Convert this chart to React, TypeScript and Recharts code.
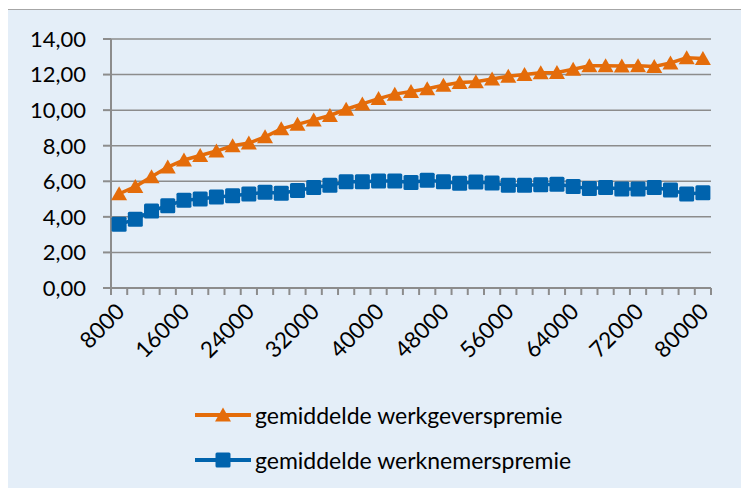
import { LineChart, Line, XAxis, YAxis, CartesianGrid, Legend } from "recharts";

const incomes = [
  8000, 10000, 12000, 14000, 16000, 18000, 20000, 22000, 24000, 26000, 28000, 30000,
  32000, 34000, 36000, 38000, 40000, 42000, 44000, 46000, 48000, 50000, 52000, 54000,
  56000, 58000, 60000, 62000, 64000, 66000, 68000, 70000, 72000, 74000, 76000, 78000, 80000,
];

const werkgever = [
  5.3, 5.7, 6.25, 6.8, 7.2, 7.45, 7.7, 8.0, 8.15, 8.5, 8.95, 9.2, 9.45, 9.7, 10.05, 10.35,
  10.65, 10.9, 11.05, 11.2, 11.4, 11.55, 11.6, 11.75, 11.9, 12.0, 12.1, 12.12, 12.3, 12.5,
  12.5, 12.48, 12.5, 12.45, 12.65, 12.95, 12.9,
];

const werknemer = [
  3.58, 3.86, 4.33, 4.63, 4.93, 5.0, 5.12, 5.19, 5.29, 5.38, 5.33, 5.48, 5.65, 5.78, 5.97,
  5.98, 6.02, 6.02, 5.93, 6.06, 5.98, 5.89, 5.96, 5.9, 5.78, 5.78, 5.8, 5.83, 5.7, 5.6,
  5.65, 5.57, 5.57, 5.65, 5.51, 5.29, 5.36,
];

const yTicks = [0, 2, 4, 6, 8, 10, 12, 14];
const seriesNames = ["gemiddelde werkgeverspremie", "gemiddelde werknemerspremie"];

const data = incomes.map((inc, i) => ({
  inkomen: inc,
  werkgever: werkgever[i],
  werknemer: werknemer[i],
}));

const ORANGE = "#e46c0a";
const BLUE = "#0063ad";
const GRAY = "#8c8c8c";
const HALF = 8.1; // half a category step, tick marks sit between categories

const Triangle = (props: any) => {
  const { cx, cy } = props;
  if (cx == null || cy == null) return null;
  return (
    <path
      d={`M${cx},${cy - 7.5} L${cx + 8},${cy + 6.5} L${cx - 8},${cy + 6.5} Z`}
      fill={ORANGE}
    />
  );
};

const Square = (props: any) => {
  const { cx, cy } = props;
  if (cx == null || cy == null) return null;
  return <rect x={cx - 7.5} y={cy - 7.5} width={15} height={15} rx={1.5} fill={BLUE} />;
};

const XTick = (props: any) => {
  const { x, y, index, payload } = props;
  return (
    <g>
      <line x1={x - HALF} x2={x - HALF} y1={y} y2={y + 7} stroke={GRAY} strokeWidth={2} />
      {index === incomes.length - 1 && (
        <line x1={x + HALF} x2={x + HALF} y1={y} y2={y + 7} stroke={GRAY} strokeWidth={2} />
      )}
      {index % 4 === 0 && (
        <text
          transform={`translate(${x + 7},${y + 25}) rotate(-45)`}
          textAnchor="end"
          fontSize={22.5}
          fill="#000"
        >
          {payload.value}
        </text>
      )}
    </g>
  );
};

const LegendContent = () => (
  <div style={{ fontSize: 23, color: "#000" }}>
    {seriesNames.map((name, i) => (
      <div key={name} style={{ display: "flex", alignItems: "center", height: 45 }}>
        <svg width={56} height={20} style={{ marginRight: 4 }}>
          <line x1={0} x2={56} y1={10} y2={10} stroke={i === 0 ? ORANGE : BLUE} strokeWidth={4} strokeLinecap="round" />
          {i === 0 ? (
            <path d="M28,2.5 L36,16.5 L20,16.5 Z" fill={ORANGE} />
          ) : (
            <rect x={20.5} y={2.5} width={15} height={15} rx={1.5} fill={BLUE} />
          )}
        </svg>
        <span>{name}</span>
      </div>
    ))}
  </div>
);

export default function App() {
  return (
    <div
      style={{
        width: 760,
        height: 482,
        marginLeft: -1,
        marginTop: 1,
        border: "1px solid #a6a6a6",
        background: "#e4eef8",
        fontFamily: "Lato, sans-serif",
      }}
    >
      <LineChart
        width={760}
        height={482}
        data={data}
        margin={{ top: 29, right: 57, left: 0, bottom: 0 }}
      >
        <CartesianGrid vertical={false} stroke={GRAY} strokeWidth={1.5} />
        <XAxis
          dataKey="inkomen"
          interval={0}
          height={204}
          padding={{ left: HALF, right: HALF }}
          tickLine={false}
          tickSize={0}
          tickMargin={0}
          axisLine={{ stroke: GRAY, strokeWidth: 2 }}
          tick={<XTick />}
        />
        <YAxis
          width={103}
          domain={[0, 14]}
          ticks={yTicks}
          interval={0}
          tickSize={8}
          tickMargin={17}
          tickLine={{ stroke: GRAY, strokeWidth: 2 }}
          axisLine={{ stroke: GRAY, strokeWidth: 2 }}
          tick={{ fontSize: 22, fill: "#000" }}
          tickFormatter={(v: number) => v.toFixed(2).replace(".", ",")}
        />
        <Line
          dataKey="werkgever"
          name={seriesNames[0]}
          stroke={ORANGE}
          strokeWidth={3.5}
          dot={<Triangle />}
          isAnimationActive={false}
        />
        <Line
          dataKey="werknemer"
          name={seriesNames[1]}
          stroke={BLUE}
          strokeWidth={3.5}
          dot={<Square />}
          isAnimationActive={false}
        />
        <Legend
          layout="vertical"
          align="center"
          verticalAlign="middle"
          content={<LegendContent />}
          wrapperStyle={{ top: 382, left: 187, width: "auto" }}
        />
      </LineChart>
    </div>
  );
}
